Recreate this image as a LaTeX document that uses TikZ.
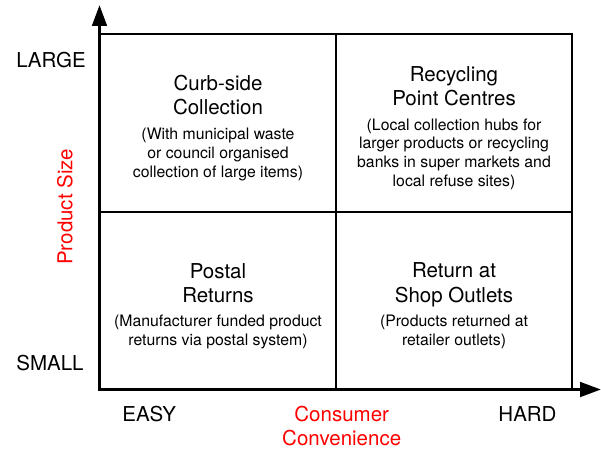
\documentclass[tikz,border=0pt]{standalone}
\usepackage{fontspec}
\setmainfont{TeX Gyre Heros}
\usetikzlibrary{arrows.meta}
\tikzset{
  axisline/.style={line width=3.3pt, -{Triangle[length=21pt,width=14.5pt]}},
  gridline/.style={line width=2.3pt},
  % multi-line nodes: the base anchor sits on the last line
  celltitle/.style={font=\fontsize{20.5}{24.2}\selectfont, align=center, anchor=base, inner sep=0pt},
  celldesc/.style={font=\fontsize{15.8}{18.8}\selectfont, align=center, anchor=base, inner sep=0pt},
  axislabel/.style={font=\fontsize{20.5}{24.2}\selectfont, align=center, anchor=base, inner sep=0pt},
  axisname/.style={axislabel, text=red},
}
\begin{document}
\begin{tikzpicture}[x=1pt,y=-1pt]
  \useasboundingbox (0,0) rectangle (601,449);

  % corners of the matrix
  \coordinate (nw) at (100,34);
  \coordinate (se) at (572,389);
  \coordinate (ntop) at (336,34);
  \coordinate (nbot) at (336,389);
  \coordinate (wmid) at (100,212);
  \coordinate (emid) at (572,212);

  % 2x2 matrix
  \draw[gridline] (nw) rectangle (se);
  \draw[gridline] (ntop) -- (nbot);
  \draw[gridline] (wmid) -- (emid);

  % axes
  \coordinate (ybot) at (99.5,391);
  \coordinate (ytop) at (99.5,5);
  \coordinate (xleft) at (98,389.5);
  \coordinate (xright) at (601,389.5);
  \draw[axisline] (ybot) -- (ytop);
  \draw[axisline] (xleft) -- (xright);

  % quadrant texts
  \node[celltitle] (tlT) at (218,115) {Curb-side\\Collection};
  \node[celldesc]  (tlD) at (218,177) {(With municipal waste\\or council organised\\collection of large items)};

  \node[celltitle] (trT) at (454,105.5) {Recycling\\Point Centres};
  \node[celldesc]  (trD) at (454,186.5) {(Local collection hubs for\\larger products or recycling\\banks in super markets and\\local refuse sites)};

  \node[celltitle] (blT) at (218,302.2) {Postal\\Returns};
  \node[celldesc]  (blD) at (218,345) {(Manufacturer funded product\\returns via postal system)};

  \node[celltitle] (brT) at (454,302) {Return at\\Shop Outlets};
  \node[celldesc]  (brD) at (454,345) {(Products returned at\\retailer outlets)};

  % axis labels
  \node[axislabel] (large) at (51,67.7) {LARGE};
  \node[axislabel] (small) at (50,370) {SMALL};
  \node[axislabel] (easy) at (149.2,421) {EASY};
  \node[axislabel] (hard) at (527.5,421) {HARD};
  \node[axisname] (conv) at (341.7,445.8) {Consumer\\Convenience};
  \node[axisname, anchor=center, rotate=90] (size) at (65,206.7) {Product Size};
\end{tikzpicture}
\end{document}
